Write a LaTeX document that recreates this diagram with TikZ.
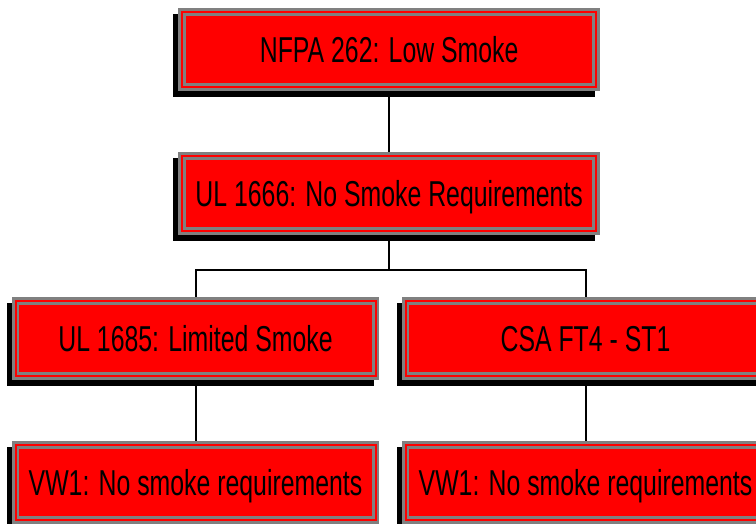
\documentclass[tikz,border=0pt]{standalone}
\usepackage{fontspec}
\newfontfamily\narrowfont[FakeStretch=0.69]{Liberation Sans}
\usetikzlibrary{backgrounds}
\tikzset{
  cbox/.style={rectangle, fill=red, draw=gray, line width=2.8pt, double=red,
    double distance=2pt, inner sep=0pt, outer sep=3.8pt,
    minimum height=75pt, text height=25.8pt, text depth=0pt,
    font=\narrowfont\fontsize{36}{40}\selectfont, text=black},
  widebox/.style={cbox, minimum width=414pt},
  narrowbox/.style={cbox, minimum width=360pt},
  conn/.style={draw=black, line width=2pt},
  shadowfill/.style={fill=black}
}
\newcommand{\boxshadow}[1]{\fill[shadowfill] ([xshift=-5pt,yshift=-6pt]#1.south west) rectangle ([xshift=-5pt,yshift=-6pt]#1.north east);}
\begin{document}
\begin{tikzpicture}[x=1pt,y=-1pt]
\useasboundingbox (0,0) rectangle (756,523);
\node[widebox] (nfpa) at (389.2,49.5) {NFPA 262: Low Smoke};
\node[widebox] (ul1666) at (389.2,193.7) {UL 1666: No Smoke Requirements};
\node[narrowbox] (ul1685) at (195.5,338.7) {UL 1685: Limited Smoke};
\node[narrowbox] (csa) at (585.5,338.7) {CSA FT4 - ST1};
\node[narrowbox] (vwa) at (195.5,482.4) {VW1: No smoke requirements};
\node[narrowbox] (vwb) at (585.5,482.4) {VW1: No smoke requirements};
\coordinate (junction) at (389.2,270);
\begin{scope}[on background layer]
\boxshadow{nfpa}
\boxshadow{ul1666}
\boxshadow{ul1685}
\boxshadow{csa}
\boxshadow{vwa}
\boxshadow{vwb}
\draw[conn] (nfpa.south) -- (ul1666.north);
\draw[conn] (ul1666.south) -- (junction);
\draw[conn] (ul1685.north) |- (junction) -| (csa.north);
\draw[conn] (ul1685.south) -- (vwa.north);
\draw[conn] (csa.south) -- (vwb.north);
\end{scope}
\end{tikzpicture}
\end{document}
